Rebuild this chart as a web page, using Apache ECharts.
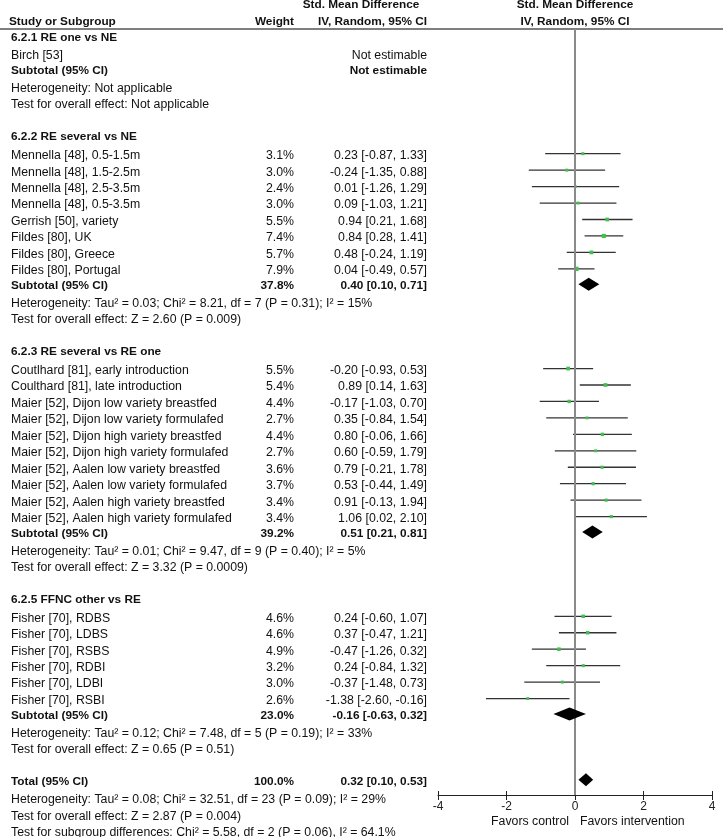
<!DOCTYPE html>
<html>
<head>
<meta charset="utf-8">
<script src="https://cdn.jsdelivr.net/npm/echarts@6/dist/echarts.min.js"></script>
<style>
html, body { margin: 0; padding: 0; background: #fff; }
#chart { width: 723px; height: 837px; }
</style>
</head>
<body>
<div id="chart"></div>
<script>
// subgroups
var groupTitles = ['6.2.1 RE one vs NE', '6.2.2 RE several vs NE', '6.2.3 RE several vs RE one', '6.2.5 FFNC other vs RE'];

// studies (group index, name, weight %, SMD, 95% CI)
var studyGroup = [0, 1, 1, 1, 1, 1, 1, 1, 1, 2, 2, 2, 2, 2, 2, 2, 2, 2, 2, 3, 3, 3, 3, 3, 3];
var studyNames = [
    'Birch [53]',
    'Mennella [48], 0.5-1.5m', 'Mennella [48], 1.5-2.5m', 'Mennella [48], 2.5-3.5m', 'Mennella [48], 0.5-3.5m',
    'Gerrish [50], variety', 'Fildes [80], UK', 'Fildes [80], Greece', 'Fildes [80], Portugal',
    'Coutlhard [81], early introduction', 'Coulthard [81], late introduction',
    'Maier [52], Dijon low variety breastfed', 'Maier [52], Dijon low variety formulafed',
    'Maier [52], Dijon high variety breastfed', 'Maier [52], Dijon high variety formulafed',
    'Maier [52], Aalen low variety breastfed', 'Maier [52], Aalen low variety formulafed',
    'Maier [52], Aalen high variety breastfed', 'Maier [52], Aalen high variety formulafed',
    'Fisher [70], RDBS', 'Fisher [70], LDBS', 'Fisher [70], RSBS', 'Fisher [70], RDBI', 'Fisher [70], LDBI', 'Fisher [70], RSBI'
];
var studyWeight = [null, 3.1, 3.0, 2.4, 3.0, 5.5, 7.4, 5.7, 7.9, 5.5, 5.4, 4.4, 2.7, 4.4, 2.7, 3.6, 3.7, 3.4, 3.4, 4.6, 4.6, 4.9, 3.2, 3.0, 2.6];
var studySmd = [null, 0.23, -0.24, 0.01, 0.09, 0.94, 0.84, 0.48, 0.04, -0.20, 0.89, -0.17, 0.35, 0.80, 0.60, 0.79, 0.53, 0.91, 1.06, 0.24, 0.37, -0.47, 0.24, -0.37, -1.38];
var studyLow = [null, -0.87, -1.35, -1.26, -1.03, 0.21, 0.28, -0.24, -0.49, -0.93, 0.14, -1.03, -0.84, -0.06, -0.59, -0.21, -0.44, -0.13, 0.02, -0.60, -0.47, -1.26, -0.84, -1.48, -2.60];
var studyHigh = [null, 1.33, 0.88, 1.29, 1.21, 1.68, 1.41, 1.19, 0.57, 0.53, 1.63, 0.70, 1.54, 1.66, 1.79, 1.78, 1.49, 1.94, 2.10, 1.07, 1.21, 0.32, 1.32, 0.73, -0.16];

// subtotals
var subWeight = [null, 37.8, 39.2, 23.0];
var subSmd = [null, 0.40, 0.51, -0.16];
var subLow = [null, 0.10, 0.21, -0.63];
var subHigh = [null, 0.71, 0.81, 0.32];
var hetTexts = [
    'Heterogeneity: Not applicable',
    'Heterogeneity: Tau\u00b2 = 0.03; Chi\u00b2 = 8.21, df = 7 (P = 0.31); I\u00b2 = 15%',
    'Heterogeneity: Tau\u00b2 = 0.01; Chi\u00b2 = 9.47, df = 9 (P = 0.40); I\u00b2 = 5%',
    'Heterogeneity: Tau\u00b2 = 0.12; Chi\u00b2 = 7.48, df = 5 (P = 0.19); I\u00b2 = 33%'
];
var testTexts = [
    'Test for overall effect: Not applicable',
    'Test for overall effect: Z = 2.60 (P = 0.009)',
    'Test for overall effect: Z = 3.32 (P = 0.0009)',
    'Test for overall effect: Z = 0.65 (P = 0.51)'
];

// overall
var totalWeight = 100.0;
var totalEst = [0.32, 0.10, 0.53];
var totalTexts = [
    'Heterogeneity: Tau\u00b2 = 0.08; Chi\u00b2 = 32.51, df = 23 (P = 0.09); I\u00b2 = 29%',
    'Test for overall effect: Z = 2.87 (P = 0.004)',
    'Test for subgroup differences: Chi\u00b2 = 5.58, df = 2 (P = 0.06), I\u00b2 = 64.1%'
];

var axisMin = -4, axisMax = 4, axisStep = 2;
var favorLabels = ['Favors control', 'Favors intervention'];

// ---- layout ----
var FONT = '"Liberation Sans", Arial, sans-serif';
var REG = '12.3px ' + FONT, BOLD = 'bold 11.8px ' + FONT;
var INK = '#111';
var COL_NAME = 11, COL_W = 294, COL_CI = 427;
var GRID_TOP = 29, AXIS_Y = 795;

function ciText(e, l, h) {
    return e.toFixed(2) + ' [' + l.toFixed(2) + ', ' + h.toFixed(2) + ']';
}

var texts = [];
var studyData = [];
var diamondData = [];
function txt(s, x, y, font, align) {
    texts.push({ type: 'text', silent: true,
        style: { text: s, x: x, y: y, font: font, fill: INK, align: align || 'left', verticalAlign: 'middle' } });
}

var y = 37.5;
groupTitles.forEach(function (title, g) {
    if (g > 0) y += 32.3;
    txt(title, COL_NAME, y, BOLD);
    y += 18.5;
    var first = true;
    studyNames.forEach(function (name, i) {
        if (studyGroup[i] !== g) return;
        if (!first) y += 16.45;
        first = false;
        txt(name, COL_NAME, y, REG);
        if (studySmd[i] == null) {
            txt('Not estimable', COL_CI, y, REG, 'right');
        } else {
            txt(studyWeight[i].toFixed(1) + '%', COL_W, y, REG, 'right');
            txt(ciText(studySmd[i], studyLow[i], studyHigh[i]), COL_CI, y, REG, 'right');
            studyData.push([studyLow[i], studyHigh[i], studySmd[i], y - 2, studyWeight[i]]);
        }
    });
    y += 15;
    txt('Subtotal (95% CI)', COL_NAME, y, BOLD);
    if (subSmd[g] == null) {
        txt('Not estimable', COL_CI, y, BOLD, 'right');
    } else {
        txt(subWeight[g].toFixed(1) + '%', COL_W, y, BOLD, 'right');
        txt(ciText(subSmd[g], subLow[g], subHigh[g]), COL_CI, y, BOLD, 'right');
        diamondData.push([subLow[g], subHigh[g], subSmd[g], y - 1.5]);
    }
    y += 18;
    txt(hetTexts[g], COL_NAME, y, REG);
    y += 15.9;
    txt(testTexts[g], COL_NAME, y, REG);
});
y += 32.3;
txt('Total (95% CI)', COL_NAME, y, BOLD);
txt(totalWeight.toFixed(1) + '%', COL_W, y, BOLD, 'right');
txt(ciText(totalEst[0], totalEst[1], totalEst[2]), COL_CI, y, BOLD, 'right');
diamondData.push([totalEst[1], totalEst[2], totalEst[0], y - 2]);
y += 18;
txt(totalTexts[0], COL_NAME, y, REG);
y += 16.6;
txt(totalTexts[1], COL_NAME, y, REG);
y += 16.2;
txt(totalTexts[2], COL_NAME, y, REG);

// column headers
txt('Std. Mean Difference', 361, 5, BOLD, 'center');
txt('Study or Subgroup', 9, 21.5, BOLD);
txt('Weight', COL_W, 21.5, BOLD, 'right');
txt('IV, Random, 95% CI', COL_CI, 21.5, BOLD, 'right');
txt('Std. Mean Difference', 575, 5, BOLD, 'center');
txt('IV, Random, 95% CI', 575, 21.5, BOLD, 'center');
txt(favorLabels[0], 569, 822, REG, 'right');
txt(favorLabels[1], 580, 822, REG, 'left');
texts.push({ type: 'line', silent: true, shape: { x1: 0, y1: GRID_TOP, x2: 723, y2: GRID_TOP },
    style: { stroke: '#555', lineWidth: 1.5 } });

var chart = echarts.init(document.getElementById('chart'));
var xAxisBase = { type: 'value', min: axisMin, max: axisMax, interval: axisStep, splitLine: { show: false } };
chart.setOption({
    animation: false,
    grid: { left: 438, right: 11, top: GRID_TOP, bottom: 837 - AXIS_Y },
    xAxis: [
        Object.assign({}, xAxisBase, {
            axisLine: { lineStyle: { color: '#222', width: 1 } },
            axisTick: { length: 5, lineStyle: { color: '#222' } },
            axisLabel: { color: '#222', fontSize: 12, fontFamily: FONT, margin: 6 }
        }),
        Object.assign({}, xAxisBase, {
            position: 'bottom', offset: 0,
            axisLine: { show: false },
            axisTick: { inside: true, length: 4, lineStyle: { color: '#222' } },
            axisLabel: { show: false }
        })
    ],
    yAxis: { type: 'value', inverse: true, min: GRID_TOP, max: AXIS_Y, show: false },
    graphic: texts,
    series: [
        {
            type: 'custom',
            z: 2,
            data: studyData,
            encode: { x: [0, 1, 2], y: 3 },
            renderItem: function (params, api) {
                var a = api.coord([api.value(0), api.value(3)]);
                var b = api.coord([api.value(1), api.value(3)]);
                var c = api.coord([api.value(2), api.value(3)]);
                var s = 1.25 * Math.sqrt(api.value(4)) + 0.8;
                return { type: 'group', children: [
                    { type: 'line', shape: { x1: a[0], y1: a[1], x2: b[0], y2: b[1] },
                      style: { stroke: '#333', lineWidth: 1.3 } },
                    { type: 'rect', z2: 10, shape: { x: c[0] - s / 2, y: c[1] - s / 2, width: s, height: s },
                      style: { fill: '#40c050' } }
                ] };
            },
            markLine: {
                silent: true, symbol: ['none', 'none'], label: { show: false }, z: 3,
                lineStyle: { color: '#8a8a8a', width: 2, type: 'solid' },
                data: [{ xAxis: 0 }]
            }
        },
        {
            type: 'custom',
            z: 10,
            data: diamondData,
            encode: { x: [0, 1, 2], y: 3 },
            renderItem: function (params, api) {
                var l = api.coord([api.value(0), api.value(3)]);
                var r = api.coord([api.value(1), api.value(3)]);
                var c = api.coord([api.value(2), api.value(3)]);
                var h = 6.5;
                return { type: 'polygon',
                    shape: { points: [[l[0], c[1]], [c[0], c[1] - h], [r[0], c[1]], [c[0], c[1] + h]] },
                    style: { fill: '#000' } };
            }
        }
    ]
});
</script>
</body>
</html>
